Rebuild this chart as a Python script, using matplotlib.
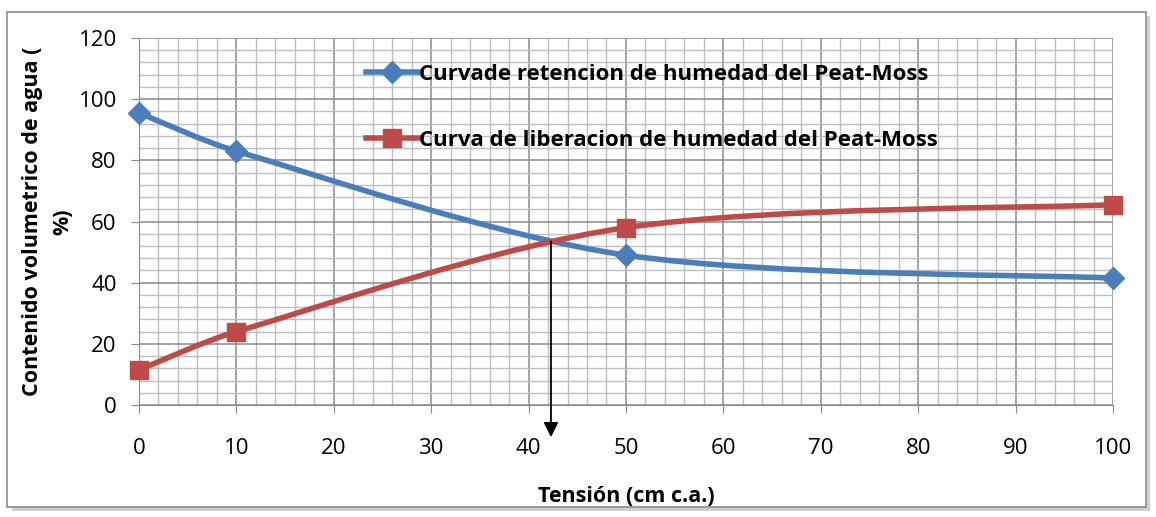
import matplotlib
matplotlib.use('Agg')
import matplotlib.pyplot as plt
from matplotlib.path import Path
from matplotlib.patches import PathPatch, Rectangle
from matplotlib.lines import Line2D
import numpy as np

# data
tension = [0, 10, 50, 100]
retencion = [95.5, 83, 49, 41.5]
liberacion = [11.5, 24, 58, 65.5]
cruce_x = 42.3
cruce_y = 53.5

lab_ret = 'Curvade retencion de humedad del Peat-Moss'
lab_lib = 'Curva de liberacion de humedad del Peat-Moss'

azul = '#4a7ebb'
rojo = '#be4b48'

plt.rcParams['font.family'] = ['Open Sans', 'DejaVu Sans']


def smooth_path(x, y):
    # excel-like smoothed line: cubic bezier through the points,
    # control handles limited to a third of the segment width
    x = np.asarray(x, float)
    y = np.asarray(y, float)
    n = len(x)
    verts = [(x[0], y[0])]
    codes = [Path.MOVETO]
    for i in range(n - 1):
        p0 = np.array([x[max(i - 1, 0)], y[max(i - 1, 0)]])
        p1 = np.array([x[i], y[i]])
        p2 = np.array([x[i + 1], y[i + 1]])
        p3 = np.array([x[min(i + 2, n - 1)], y[min(i + 2, n - 1)]])
        lim = (p2[0] - p1[0]) / 3
        t1 = (p2 - p0) / 6
        t2 = (p3 - p1) / 6
        if t1[0] > lim:
            t1 = t1 * lim / t1[0]
        if t2[0] > lim:
            t2 = t2 * lim / t2[0]
        verts += [tuple(p1 + t1), tuple(p2 - t2), tuple(p2)]
        codes += [Path.CURVE4] * 3
    return Path(verts, codes)


fig = plt.figure(figsize=(11.56, 5.17), dpi=100)

# chart frame with a little shadow
fig.patches.append(Rectangle((0.010, 0.012), 0.985, 0.958, transform=fig.transFigure,
                             facecolor='#d0d0d0', edgecolor='none', zorder=-3))
fig.patches.append(Rectangle((0.006, 0.020), 0.985, 0.957, transform=fig.transFigure,
                             facecolor='white', edgecolor='#8c8c8c', lw=1.2, zorder=-2))

ax = fig.add_axes([0.1202, 0.2166, 0.8426, 0.7099])
ax.set_xlim(0, 100)
ax.set_ylim(0, 120)
ax.set_xticks(np.arange(0, 101, 10))
ax.set_yticks(np.arange(0, 121, 20))
ax.set_xticks(np.arange(0, 101, 2), minor=True)
ax.set_yticks(np.arange(0, 121, 4), minor=True)
ax.grid(which='major', color='#8a8a8a', lw=1.1)
ax.grid(which='minor', color='#bdbdbd', lw=1.0)
ax.set_axisbelow(True)
for s in ['top', 'right']:
    ax.spines[s].set_visible(False)
ax.spines['left'].set_color('#8a8a8a')
ax.spines['bottom'].set_color('#8a8a8a')
ax.tick_params(which='major', direction='out', length=6, color='#8a8a8a',
               labelsize=16)
ax.tick_params(axis='x', pad=18)
ax.tick_params(axis='y', pad=10)
ax.tick_params(which='minor', length=0)

for yy, col, mk, ms, lab in [(retencion, azul, 'D', 11, lab_ret),
                             (liberacion, rojo, 's', 13, lab_lib)]:
    ax.add_patch(PathPatch(smooth_path(tension, yy), facecolor='none',
                           edgecolor=col, lw=4, zorder=3, clip_on=False))
    ax.plot(tension, yy, ls='none', marker=mk, ms=ms, color=col, zorder=4,
            clip_on=False)

ax.annotate('', xy=(cruce_x, -10.5), xytext=(cruce_x, cruce_y),
            arrowprops=dict(arrowstyle='-|>', color='black', lw=1.3,
                            mutation_scale=22, shrinkA=0, shrinkB=0),
            annotation_clip=False, zorder=5)

handles = [Line2D([], [], color=azul, lw=4, marker='D', ms=11),
           Line2D([], [], color=rojo, lw=4, marker='s', ms=13)]
leg = ax.legend(handles, [lab_ret, lab_lib], loc='upper left',
                bbox_to_anchor=(0.213, 0.985), frameon=False, handlelength=2.3,
                handletextpad=0.05, labelspacing=2.05,
                prop=dict(family=['Open Sans', 'DejaVu Sans'], weight='bold', size=16))

ax.set_xlabel('Tensión (cm c.a.)', fontsize=15.5, fontweight='bold', labelpad=19)
ax.set_ylabel('Contenido volumetrico de agua (\n%)', fontsize=15.5,
              fontweight='bold', labelpad=4, linespacing=1.55)

fig.savefig('out.png', dpi=100)
